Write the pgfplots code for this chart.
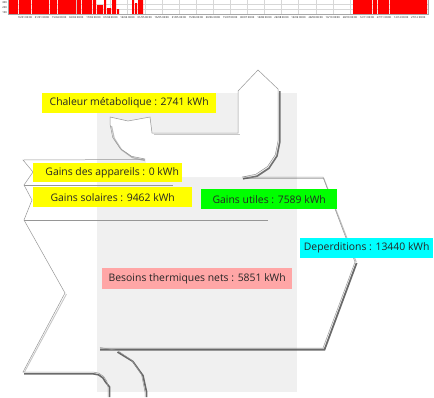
\documentclass[border=0pt]{standalone}
\usepackage{fontspec}
\setmainfont{Open Sans}
\usepackage{pgfplots}
\pgfplotsset{compat=1.18}
\definecolor{bggray}{RGB}{240,240,240}
\definecolor{lyellow}{RGB}{255,255,0}
\definecolor{lgreen}{RGB}{0,255,0}
\definecolor{lcyan}{RGB}{0,255,255}
\definecolor{lpink}{RGB}{255,166,166}
\definecolor{outl}{RGB}{150,150,150}
\definecolor{shad}{RGB}{70,70,70}
\definecolor{gridc}{RGB}{215,215,215}
\begin{document}
\begin{tikzpicture}
\useasboundingbox (0,0) rectangle (434pt,397pt);
\begin{axis}[at={(0,0)}, anchor=south west, width=434pt, height=397pt, scale only axis,
  xmin=0, xmax=434, ymin=0, ymax=397, y dir=reverse, hide axis, clip=true]
% ---------- top strip (cropped bar chart) ----------
\pgfplotsinvokeforeach{25,42.1,59.2,76.3,93.4,110.5,127.6,144.7,161.8,178.9,196,213.1,230.2,247.3,264.4,281.5,298.6,315.7,332.8,349.9,367,384.1,401.2,418.3}{
  \addplot[gridc, line width=0.3pt] coordinates {(#1,0) (#1,14)};
}
\addplot[gridc, line width=0.3pt] coordinates {(8,4) (428,4)};
\addplot[gridc, line width=0.3pt] coordinates {(8,9) (428,9)};
\addplot[fill=red, draw=none] coordinates {
 (9,14) (9,0) (18,0) (18,14) (19,14) (19,0) (31,0) (31,14) (32,14) (32,0) (49,0) (49,14)
 (50,14) (50,0) (57,0) (57,14) (58,14) (58,0) (76,0) (76,14) (77,14) (77,0) (81,0) (81,14)
 (82,14) (82,0) (92,0) (92,14) (93,14) (93,0) (96,0) (96,14) (97,14) (97,5) (103,5) (103,14)
 (104,14) (104,0) (106,0) (106,14) (107,14) (107,8) (111,8) (111,14) (112,14) (112,0) (116,0) (116,14)
 (117,14) (117,9) (119,9) (119,14) (132,14) (132,0) (134,0) (134,14) (135,14) (135,3) (137,3) (137,14)
 (138,14) (138,0) (143,0) (143,14) (353,14) (353,0) (372,0) (372,14) (373,14) (373,0) (377,0) (377,14)
 (378,14) (378,0) (389,0) (389,14) (390,14) (390,0) (427,0) (427,14)} -- cycle;
\addplot[gray!70, line width=0.4pt] coordinates {(8,0) (8,14) (428,14) (428,0)};
\node[font=\fontsize{2.6}{3}\selectfont, anchor=east, inner sep=0.5pt] at (axis cs:7.5,3) {300};
\node[font=\fontsize{2.6}{3}\selectfont, anchor=east, inner sep=0.5pt] at (axis cs:7.5,8) {200};
\node[font=\fontsize{2.6}{3}\selectfont, anchor=east, inner sep=0.5pt] at (axis cs:7.5,13) {100};
\node[font=\fontsize{2.6}{3}\selectfont, anchor=north, inner sep=0pt] at (axis cs:25,16.5) {16/01 00:00};
\node[font=\fontsize{2.6}{3}\selectfont, anchor=north, inner sep=0pt] at (axis cs:42.1,16.5) {31/01 00:00};
\node[font=\fontsize{2.6}{3}\selectfont, anchor=north, inner sep=0pt] at (axis cs:59.2,16.5) {15/02 00:00};
\node[font=\fontsize{2.6}{3}\selectfont, anchor=north, inner sep=0pt] at (axis cs:76.3,16.5) {02/03 00:00};
\node[font=\fontsize{2.6}{3}\selectfont, anchor=north, inner sep=0pt] at (axis cs:93.4,16.5) {17/03 00:00};
\node[font=\fontsize{2.6}{3}\selectfont, anchor=north, inner sep=0pt] at (axis cs:110.5,16.5) {01/04 00:00};
\node[font=\fontsize{2.6}{3}\selectfont, anchor=north, inner sep=0pt] at (axis cs:127.6,16.5) {16/04 00:00};
\node[font=\fontsize{2.6}{3}\selectfont, anchor=north, inner sep=0pt] at (axis cs:144.7,16.5) {01/05 00:00};
\node[font=\fontsize{2.6}{3}\selectfont, anchor=north, inner sep=0pt] at (axis cs:161.8,16.5) {16/05 00:00};
\node[font=\fontsize{2.6}{3}\selectfont, anchor=north, inner sep=0pt] at (axis cs:178.9,16.5) {31/05 00:00};
\node[font=\fontsize{2.6}{3}\selectfont, anchor=north, inner sep=0pt] at (axis cs:196,16.5) {15/06 00:00};
\node[font=\fontsize{2.6}{3}\selectfont, anchor=north, inner sep=0pt] at (axis cs:213.1,16.5) {30/06 00:00};
\node[font=\fontsize{2.6}{3}\selectfont, anchor=north, inner sep=0pt] at (axis cs:230.2,16.5) {15/07 00:00};
\node[font=\fontsize{2.6}{3}\selectfont, anchor=north, inner sep=0pt] at (axis cs:247.3,16.5) {30/07 00:00};
\node[font=\fontsize{2.6}{3}\selectfont, anchor=north, inner sep=0pt] at (axis cs:264.4,16.5) {14/08 00:00};
\node[font=\fontsize{2.6}{3}\selectfont, anchor=north, inner sep=0pt] at (axis cs:281.5,16.5) {29/08 00:00};
\node[font=\fontsize{2.6}{3}\selectfont, anchor=north, inner sep=0pt] at (axis cs:298.6,16.5) {13/09 00:00};
\node[font=\fontsize{2.6}{3}\selectfont, anchor=north, inner sep=0pt] at (axis cs:315.7,16.5) {28/09 00:00};
\node[font=\fontsize{2.6}{3}\selectfont, anchor=north, inner sep=0pt] at (axis cs:332.8,16.5) {13/10 00:00};
\node[font=\fontsize{2.6}{3}\selectfont, anchor=north, inner sep=0pt] at (axis cs:349.9,16.5) {28/10 00:00};
\node[font=\fontsize{2.6}{3}\selectfont, anchor=north, inner sep=0pt] at (axis cs:367,16.5) {12/11 00:00};
\node[font=\fontsize{2.6}{3}\selectfont, anchor=north, inner sep=0pt] at (axis cs:384.1,16.5) {27/11 00:00};
\node[font=\fontsize{2.6}{3}\selectfont, anchor=north, inner sep=0pt] at (axis cs:401.2,16.5) {12/12 00:00};
\node[font=\fontsize{2.6}{3}\selectfont, anchor=north, inner sep=0pt] at (axis cs:418.3,16.5) {27/12 00:00};
% ---------- Sankey ----------
\addplot[fill=bggray, draw=none] coordinates {(97,93) (297,93) (297,392) (97,392)} -- cycle;
\addplot[fill=white, draw=none] coordinates {
 (110,117) (128,121) (150,117) (152,133) (238,133) (238,91) (258,70) (278,89) (278,141)
 (275.3,154.8) (267.5,166.5) (255.8,174.3) (242,177) (150,177) (145,159) (131.6,156.3) (120.3,148.7) (112.7,137.4) (110,124)} -- cycle;
% shadows
\addplot[shad, opacity=0.75, line width=1.6pt] coordinates {(279.8,91) (279.8,142) (277,156) (269,168.2) (257,176.2) (243,178.8)};
\addplot[shad, opacity=0.35, line width=1.2pt] coordinates {(111.5,126) (114.2,138.2) (121.6,149.8) (132.4,157.6) (145,160.6)};
\addplot[shad, opacity=0.35, line width=1pt] coordinates {(243,178.4) (323.8,178.4) (356.2,262)};
\addplot[shad, opacity=0.8, line width=1.8pt] coordinates {(356.6,263) (324.5,349.6) (100,349.6)};
\addplot[shad, opacity=0.8, line width=1.6pt] coordinates {(117.5,352) (132.8,361.4) (143,375.6) (146.6,392) (146.6,397)};
\addplot[shad, opacity=0.8, line width=1.6pt] coordinates {(24,373.8) (93,373.8) (98.5,374.8) (102.8,377.8) (105.5,382) (109.6,387) (109.6,397)};
\addplot[shad, opacity=0.3, line width=0.9pt] coordinates {(153.5,134.5) (239.5,134.5)};
\addplot[shad, opacity=0.3, line width=0.9pt] coordinates {(66.5,294) (24.5,372)};
% outlines
\addplot[outl, line width=0.5pt] coordinates {
 (145,159) (131.6,156.3) (120.3,148.7) (112.7,137.4) (110,124) (110,117) (128,121) (150,117) (152,133)
 (238,133) (238,91) (258,70) (278,89) (278,141) (275.3,154.8) (267.5,166.5) (255.8,174.3) (242,177)
 (323,177) (355,262) (323,348) (100,348)};
\addplot[outl, line width=0.5pt] coordinates {
 (145,159.5) (23,160) (33,172) (24,185) (32,200) (24,220) (65,293) (23,372) (93,372)
 (98.7,373.1) (103.6,376.4) (106.9,381.3) (108,387) (108,397)};
\addplot[outl, line width=0.5pt] coordinates {(100,347.5) (117.2,350.4) (131.8,360.2) (141.6,374.8) (145,392) (145,397)};
\addplot[outl, line width=0.5pt] coordinates {(24,185) (173,185)};
\addplot[outl, line width=0.5pt] coordinates {(24,220) (268,220)};
% labels
\node[fill=lyellow, anchor=north west, inner sep=0pt, minimum width=174pt, minimum height=20pt, font=\fontsize{10.4}{12}\selectfont, text=black!85] at (axis cs:42,93) {Chaleur métabolique : 2741 kWh};
\node[fill=lyellow, anchor=north west, inner sep=0pt, minimum width=149pt, minimum height=19pt, font=\fontsize{10.4}{12}\selectfont, text=black!85] at (axis cs:33,163) {\hspace{9pt}Gains des appareils : 0 kWh};
\node[fill=lyellow, anchor=north west, inner sep=0pt, minimum width=159pt, minimum height=20pt, font=\fontsize{10.4}{12}\selectfont, text=black!85] at (axis cs:33,187) {Gains solaires : 9462 kWh};
\node[fill=lgreen, anchor=north west, inner sep=0pt, minimum width=136pt, minimum height=20pt, font=\fontsize{10.4}{12}\selectfont, text=black!85] at (axis cs:201,189) {Gains utiles : 7589 kWh};
\node[fill=lcyan, anchor=north west, inner sep=0pt, minimum width=133pt, minimum height=20pt, font=\fontsize{10.4}{12}\selectfont, text=black!85] at (axis cs:300,238) {Deperditions : 13440 kWh};
\node[fill=lpink, anchor=north west, inner sep=0pt, minimum width=190pt, minimum height=21pt, font=\fontsize{10.4}{12}\selectfont, text=black!85] at (axis cs:102,268) {Besoins thermiques nets : 5851 kWh};
\end{axis}
\end{tikzpicture}
\end{document}
